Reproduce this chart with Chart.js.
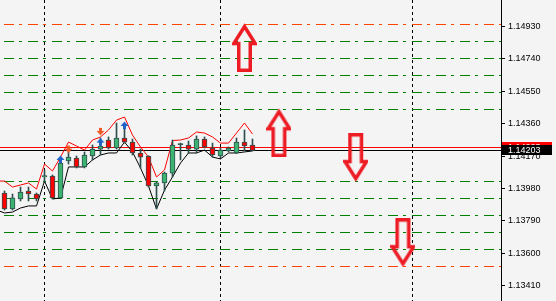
<!DOCTYPE html>
<html>
<head>
<meta charset="utf-8">
<script src="https://cdn.jsdelivr.net/npm/chart.js@4/dist/chart.umd.min.js"></script>
<style>
  html, body { margin: 0; padding: 0; background: #f4f4f4; }
  canvas { display: block; }
</style>
</head>
<body>
<canvas id="chart" width="556" height="301"></canvas>
<script>
// ローソク足 (左から順番、x は足のインデックス)
const opens  = [1.13953, 1.13859, 1.13918, 1.13965, 1.13947, 1.14047, 1.14053, 1.13924, 1.14141, 1.14158,
                1.14106, 1.14170, 1.14211, 1.14264, 1.14217, 1.14276, 1.14252, 1.14188, 1.14168, 1.13994,
                1.14012, 1.14070, 1.14237, 1.14235, 1.14211, 1.14270, 1.14217, 1.14170, 1.14200, 1.14188,
                1.14252, 1.14235];
const highs  = [1.13965, 1.13947, 1.13988, 1.13988, 1.13953, 1.14088, 1.14059, 1.14147, 1.14194, 1.14170,
                1.14194, 1.14235, 1.14276, 1.14282, 1.14364, 1.14329, 1.14270, 1.14211, 1.14172, 1.14017,
                1.14076, 1.14264, 1.14246, 1.14258, 1.14288, 1.14282, 1.14246, 1.14217, 1.14223, 1.14276,
                1.14323, 1.14270];
const lows   = [1.13853, 1.13853, 1.13906, 1.13906, 1.13906, 1.14017, 1.13918, 1.13924, 1.14123, 1.14100,
                1.14100, 1.14147, 1.14176, 1.14211, 1.14211, 1.14246, 1.14176, 1.14100, 1.13988, 1.13859,
                1.13965, 1.14047, 1.14147, 1.14188, 1.14188, 1.14217, 1.14164, 1.14158, 1.14194, 1.14185,
                1.14200, 1.14200];
const closes = [1.13859, 1.13924, 1.13959, 1.13947, 1.13918, 1.14056, 1.13924, 1.14129, 1.14164, 1.14106,
                1.14176, 1.14211, 1.14229, 1.14217, 1.14276, 1.14252, 1.14188, 1.14164, 1.13994, 1.14012,
                1.14070, 1.14235, 1.14237, 1.14211, 1.14270, 1.14223, 1.14176, 1.14205, 1.14217, 1.14252,
                1.14229, 1.14203];

// 上下のライン (先頭は画面外の1本前の足)
const upperLine = [1.14023, 1.14023, 1.13988, 1.14000, 1.14012, 1.13976, 1.14123, 1.14082, 1.14164, 1.14252,
                   1.14229, 1.14205, 1.14264, 1.14282, 1.14323, 1.14381, 1.14399, 1.14293, 1.14223, 1.14164,
                   1.14047, 1.14088, 1.14261, 1.14264, 1.14276, 1.14311, 1.14305, 1.14282, 1.14246, 1.14246,
                   1.14305, 1.14364, 1.14299];
const lowerLine = [1.13853, 1.13836, 1.13841, 1.13865, 1.13877, 1.13877, 1.14023, 1.13918, 1.13924, 1.14106,
                   1.14106, 1.14106, 1.14147, 1.14176, 1.14188, 1.14188, 1.14252, 1.14194, 1.14100, 1.13994,
                   1.13859, 1.13970, 1.14047, 1.14129, 1.14188, 1.14188, 1.14205, 1.14164, 1.14153, 1.14188,
                   1.14188, 1.14194, 1.14200];

// 小さい矢印 (青=上, オレンジ=下)
const upMarkX = [7, 12, 15];
const upMarkY = [1.14150, 1.14252, 1.14349];
const downMarkX = [8, 12];
const downMarkY = [1.14211, 1.14315];

// 大きい矢印 (先端の価格)
const bigUpX = [30, 34.3];
const bigUpY = [1.14945, 1.14445];
const bigDownX = [43.9, 49.8];
const bigDownY = [1.14023, 1.13523];

// 水平ライン
const orangeLevels = [1.14945, 1.13523];
const greenLevels = [1.14845, 1.14745, 1.14645, 1.14545, 1.14445, 1.14023, 1.13923, 1.13823, 1.13723, 1.13623];

// 現在値
const bid = 1.14203;
const ask = 1.14223;

// 軸
const yTicks = [1.13410, 1.13600, 1.13790, 1.13980, 1.14170, 1.14360, 1.14550, 1.14740, 1.14930];
const gridX = [5, 27, 51];
const X_MIN = -0.5625, X_MAX = 62.0625;
const Y_MIN = 1.13319, Y_MAX = 1.15086;

const GREEN_BODY = '#3cb371';
const RED_BODY = '#ff0000';
const WICK = '#2f4f4f';

// 大きい中抜き矢印 (先端がキャンバス中央に来るように描く)
function makeBigArrow(dir) {
    const w = 25, h = 48;
    const c = document.createElement('canvas');
    c.width = w; c.height = h * 2;
    const g = c.getContext('2d');
    if (dir === 'up') {
        g.translate(0, h);
    } else {
        g.translate(0, h);
        g.scale(1, -1);
    }
    const pts = [[12.5, 2.5], [23.25, 19.6], [18.25, 19.6], [18.25, 46.25], [6.75, 46.25], [6.75, 19.6], [1.75, 19.6]];
    g.beginPath();
    pts.forEach((p, i) => i ? g.lineTo(p[0], p[1]) : g.moveTo(p[0], p[1]));
    g.closePath();
    g.strokeStyle = '#ed1c24';
    g.lineWidth = 3.5;
    g.stroke();
    return c;
}

// 小さい矢印
function makeSmallArrow(dir, color) {
    const c = document.createElement('canvas');
    c.width = 9; c.height = 9;
    const g = c.getContext('2d');
    if (dir === 'down') { g.translate(0, 9); g.scale(1, -1); }
    g.fillStyle = color;
    g.beginPath();
    g.moveTo(4.5, 0.5);
    g.lineTo(8.5, 5);
    g.lineTo(0.5, 5);
    g.closePath();
    g.fill();
    g.fillRect(3, 5, 3, 3);
    return c;
}

const datasets = [];

// 大きい矢印
datasets.push({
    type: 'line', showLine: false, order: 0,
    data: bigUpX.map((x, i) => ({x: x, y: bigUpY[i]})),
    pointStyle: makeBigArrow('up')
});
datasets.push({
    type: 'line', showLine: false, order: 0,
    data: bigDownX.map((x, i) => ({x: x, y: bigDownY[i]})),
    pointStyle: makeBigArrow('down')
});

// 小さい矢印
datasets.push({
    type: 'line', showLine: false, order: 1,
    data: upMarkX.map((x, i) => ({x: x, y: upMarkY[i]})),
    pointStyle: makeSmallArrow('up', '#1e64c8')
});
datasets.push({
    type: 'line', showLine: false, order: 1,
    data: downMarkX.map((x, i) => ({x: x, y: downMarkY[i]})),
    pointStyle: makeSmallArrow('down', '#f05a28')
});

// 実体
datasets.push({
    type: 'bar', order: 2, grouped: false,
    data: opens.map((o, i) => ({x: i, y: [o, closes[i]]})),
    backgroundColor: opens.map((o, i) => closes[i] > o ? GREEN_BODY : (closes[i] < o ? RED_BODY : WICK)),
    borderColor: WICK,
    borderWidth: 1,
    borderSkipped: false,
    barThickness: 5,
    minBarLength: 1
});

// ヒゲ
datasets.push({
    type: 'bar', order: 3, grouped: false,
    data: opens.map((o, i) => ({x: i, y: [lows[i], highs[i]]})),
    backgroundColor: WICK,
    barThickness: 1
});

// 上下ライン
datasets.push({
    type: 'line', order: 4,
    data: upperLine.map((v, i) => ({x: i - 1, y: v})),
    borderColor: '#ff0000', borderWidth: 1, pointRadius: 0, tension: 0
});
datasets.push({
    type: 'line', order: 4,
    data: lowerLine.map((v, i) => ({x: i - 1, y: v})),
    borderColor: '#000000', borderWidth: 1, pointRadius: 0, tension: 0
});

const AXIS_FONT = {family: "'Liberation Sans', Arial, sans-serif", size: 9};

// 右側の価格ラベル
const priceTags = {
    id: 'priceTags',
    afterDraw(chart) {
        const ctx = chart.ctx;
        const y = chart.scales.y;
        [[ask, '#ff0000'], [bid, '#000000']].forEach(([v, col]) => {
            const py = Math.round(y.getPixelForValue(v));
            ctx.save();
            ctx.fillStyle = col;
            ctx.fillRect(y.left + 1, py - 5, 50, 10);
            ctx.fillStyle = '#ffffff';
            ctx.font = AXIS_FONT.size + 'px ' + AXIS_FONT.family;
            ctx.textBaseline = 'middle';
            ctx.fillText(v.toFixed(5), y.left + 7, py + 0.5);
            ctx.restore();
        });
    }
};

// 水平ライン用の見えない軸 (グリッド線で描くとピクセルに揃う)
const hiddenY = (values, colorOf, dash, dashOffset) => ({
    type: 'linear',
    position: 'left',
    min: Y_MIN,
    max: Y_MAX,
    beginAtZero: false,
    grid: {drawTicks: false, lineWidth: 1, color: c => colorOf(c.tick ? c.tick.value : 0)},
    border: {display: false, dash: dash, dashOffset: dashOffset},
    ticks: {display: false},
    afterBuildTicks: scale => { scale.ticks = values.map(v => ({value: v})); },
    afterFit: scale => { scale.width = 0; scale.paddingTop = 0; scale.paddingBottom = 0; }
});

let chart = new Chart(document.getElementById('chart'), {
    type: 'bar',
    data: {datasets: datasets},
    options: {
        responsive: false,
        devicePixelRatio: 1,
        animation: false,
        layout: {padding: 0, autoPadding: false},
        plugins: {legend: {display: false}, tooltip: {enabled: false}},
        scales: {
            x: {
                type: 'linear',
                min: X_MIN,
                max: X_MAX,
                offset: false,
                grid: {color: '#000000', lineWidth: 1, drawTicks: false, offset: false},
                border: {display: false, dash: [3, 3]},
                ticks: {display: false},
                afterBuildTicks: scale => { scale.ticks = gridX.map(v => ({value: v})); },
                afterFit: scale => { scale.height = 0; scale.paddingLeft = 0; scale.paddingRight = 0; }
            },
            levels: hiddenY(orangeLevels.concat(greenLevels),
                            v => orangeLevels.includes(v) ? '#ff4500' : '#008000', [10, 5, 3, 6], 20),
            price: hiddenY([ask, bid], v => v === bid ? '#000000' : '#ff0000', [], 0),
            y: {
                type: 'linear',
                position: 'right',
                min: Y_MIN,
                max: Y_MAX,
                beginAtZero: false,
                grid: {drawOnChartArea: false, drawTicks: true, tickLength: 4, color: '#000000'},
                border: {display: true, color: '#000000', width: 1},
                ticks: {
                    color: '#000000',
                    font: AXIS_FONT,
                    padding: 3,
                    autoSkip: false,
                    callback: v => v.toFixed(5)
                },
                afterBuildTicks: scale => { scale.ticks = yTicks.map(v => ({value: v})); },
                afterFit: scale => { scale.width = 55; scale.paddingTop = 0; scale.paddingBottom = 0; }
            }
        }
    },
    plugins: [priceTags]
});
</script>
</body>
</html>
